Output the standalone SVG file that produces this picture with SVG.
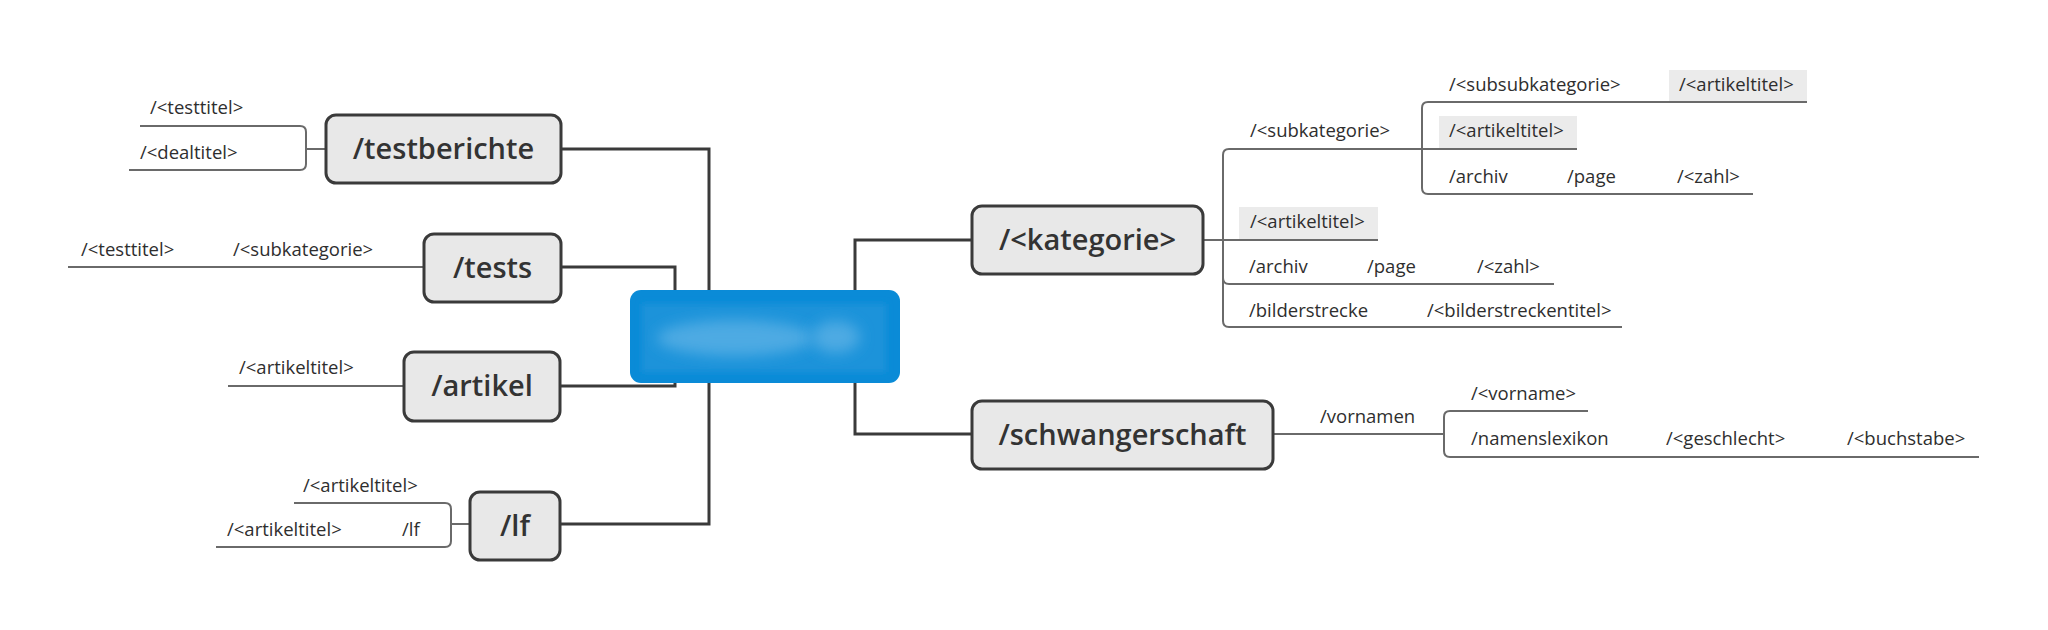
<svg xmlns="http://www.w3.org/2000/svg" width="2048" height="630" viewBox="0 0 2048 630">
<style>
.node rect{fill:#e8e8e8;stroke:#3a3a3a;stroke-width:3}
.node text{font-family:"Open Sans","Noto Sans",sans-serif;font-size:29px;font-weight:600;fill:#333;text-anchor:middle}
.main{fill:none;stroke:#3a3a3a;stroke-width:3}
.sub{fill:none;stroke:#6a6a6a;stroke-width:2}
.lbl{font-family:"Open Sans","Noto Sans",sans-serif;font-size:18.5px;fill:#2e2e2e}
.hl{fill:#ebebeb}
</style>
<defs>
<filter id="blur" x="-50%" y="-50%" width="200%" height="200%"><feGaussianBlur stdDeviation="7"/></filter>
<filter id="blur2" x="-20%" y="-20%" width="140%" height="140%"><feGaussianBlur stdDeviation="3"/></filter>
</defs>
<rect width="2048" height="630" fill="#fff"/>
<g id="highlights">
<rect class="hl" x="1239" y="207" width="139" height="32"/>
<rect class="hl" x="1439" y="116" width="138" height="33"/>
<rect class="hl" x="1669" y="70" width="138" height="32"/>
</g>
<g id="connectors">
<path class="main" d="M561,149 H709 V290"/>
<path class="main" d="M561,267 H675 V290"/>
<path class="main" d="M560,386 H675 V383"/>
<path class="main" d="M560,524 H709 V383"/>
<path class="main" d="M855,290 V240 H972"/>
<path class="main" d="M855,383 V434 H972"/>
<path class="sub" d="M326,149 H306"/>
<path class="sub" d="M306,149 V132 Q306,126 300,126 H140"/>
<path class="sub" d="M306,149 V164 Q306,170 300,170 H129"/>
<path class="sub" d="M424,267 H68"/>
<path class="sub" d="M404,386 H228"/>
<path class="sub" d="M470,524 H451"/>
<path class="sub" d="M451,524 V509 Q451,503 445,503 H294"/>
<path class="sub" d="M451,524 V541 Q451,547 445,547 H216"/>
<path class="sub" d="M1203,240 H1378"/>
<path class="sub" d="M1223,240 V155 Q1223,149 1229,149 H1577"/>
<path class="sub" d="M1223,240 V278 Q1223,284 1229,284 H1554"/>
<path class="sub" d="M1223,240 V321 Q1223,327 1229,327 H1622"/>
<path class="sub" d="M1422,149 V108 Q1422,102 1428,102 H1807"/>
<path class="sub" d="M1422,149 V188 Q1422,194 1428,194 H1753"/>
<path class="sub" d="M1273,434 H1444"/>
<path class="sub" d="M1444,434 V417 Q1444,411 1450,411 H1588"/>
<path class="sub" d="M1444,434 V451 Q1444,457 1450,457 H1979"/>
</g>
<g id="center">
<rect x="630" y="290" width="270" height="93" rx="11" fill="#0a8bd7"/>
<rect x="642" y="304" width="244" height="68" fill="#1b93da" filter="url(#blur2)"/>
<ellipse cx="735" cy="338" rx="78" ry="18" fill="#4eaae3" filter="url(#blur)"/>
<ellipse cx="836" cy="337" rx="24" ry="16" fill="#4eaae3" filter="url(#blur)"/>
</g>
<g id="n-testberichte" class="node"><rect x="326" y="115" width="235" height="68" rx="10"/><text x="443.5" y="159">/testberichte</text></g>
<g id="n-tests" class="node"><rect x="424" y="234" width="137" height="68" rx="10"/><text x="492.5" y="278">/tests</text></g>
<g id="n-artikel" class="node"><rect x="404" y="352" width="156" height="69" rx="10"/><text x="482" y="396">/artikel</text></g>
<g id="n-lf" class="node"><rect x="470" y="492" width="90" height="68" rx="10"/><text x="515" y="536">/lf</text></g>
<g id="n-kategorie" class="node"><rect x="972" y="206" width="231" height="68" rx="10"/><text x="1087.5" y="250">/&lt;kategorie&gt;</text></g>
<g id="n-schwangerschaft" class="node"><rect x="972" y="401" width="301" height="68" rx="10"/><text x="1122.5" y="445">/schwangerschaft</text></g>
<g id="labels">
<text class="lbl" x="150" y="114">/&lt;testtitel&gt;</text>
<text class="lbl" x="140" y="159">/&lt;dealtitel&gt;</text>
<text class="lbl" x="81" y="256">/&lt;testtitel&gt;</text>
<text class="lbl" x="233" y="256">/&lt;subkategorie&gt;</text>
<text class="lbl" x="239" y="374">/&lt;artikeltitel&gt;</text>
<text class="lbl" x="303" y="492">/&lt;artikeltitel&gt;</text>
<text class="lbl" x="227" y="536">/&lt;artikeltitel&gt;</text>
<text class="lbl" x="402" y="536">/lf</text>
<text class="lbl" x="1250" y="137">/&lt;subkategorie&gt;</text>
<text class="lbl" x="1449" y="91">/&lt;subsubkategorie&gt;</text>
<text class="lbl" x="1679" y="91">/&lt;artikeltitel&gt;</text>
<text class="lbl" x="1449" y="137">/&lt;artikeltitel&gt;</text>
<text class="lbl" x="1449" y="183">/archiv</text>
<text class="lbl" x="1567" y="183">/page</text>
<text class="lbl" x="1677" y="183">/&lt;zahl&gt;</text>
<text class="lbl" x="1250" y="228">/&lt;artikeltitel&gt;</text>
<text class="lbl" x="1249" y="273">/archiv</text>
<text class="lbl" x="1367" y="273">/page</text>
<text class="lbl" x="1477" y="273">/&lt;zahl&gt;</text>
<text class="lbl" x="1249" y="317">/bilderstrecke</text>
<text class="lbl" x="1427" y="317">/&lt;bilderstreckentitel&gt;</text>
<text class="lbl" x="1320" y="423">/vornamen</text>
<text class="lbl" x="1471" y="400">/&lt;vorname&gt;</text>
<text class="lbl" x="1471" y="445">/namenslexikon</text>
<text class="lbl" x="1666" y="445">/&lt;geschlecht&gt;</text>
<text class="lbl" x="1847" y="445">/&lt;buchstabe&gt;</text>
</g>
</svg>
